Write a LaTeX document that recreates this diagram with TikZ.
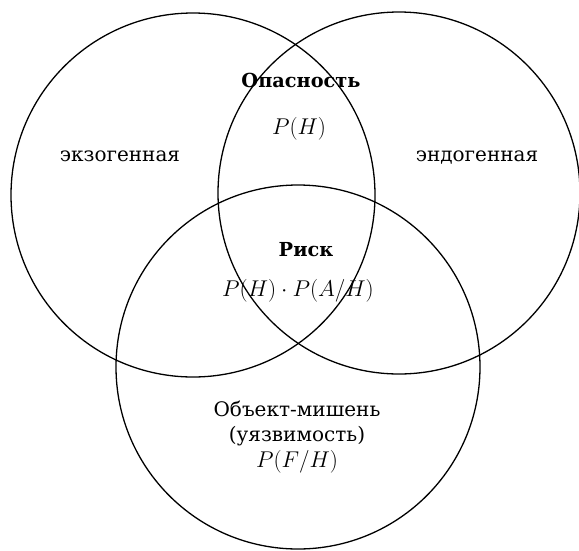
\documentclass[tikz,border=0pt]{standalone}
\usepackage{graphicx}
\usepackage{fontspec}
\setmainfont{DejaVu Serif}
\newcommand{\bigmath}[1]{\scalebox{1.1}{$#1$}}
\begin{document}
\begin{tikzpicture}[x=1pt,y=-1pt,
  circ/.style={draw, line width=1.3pt},
  txt/.style={font=\fontsize{20}{24}\selectfont, inner sep=0pt, anchor=base},
  btxt/.style={font=\fontsize{19.3}{23}\selectfont\bfseries, inner sep=0pt, anchor=base},
  mth/.style={font=\fontsize{20.74}{25}\selectfont, inner sep=0pt, anchor=base}]
\useasboundingbox (0,0) rectangle (579,550);
\draw[circ] (193,195) circle[radius=182];
\draw[circ] (399,193) circle[radius=181];
\draw[circ] (298,367) circle[radius=182];
\node[btxt] (op) at (301,87) {Опасность};
\node[mth] (ph) at (299,134) {\bigmath{P(H)}};
\node[txt] (ex) at (120,161) {экзогенная};
\node[txt] (en) at (477,161) {эндогенная};
\node[btxt] (risk) at (306,256) {Риск};
\node[mth] (form) at (298,296) {\bigmath{P(H)\cdot P(A/H)}};
\node[txt] (obj1) at (297,416) {Объект-мишень};
\node[txt] (obj2) at (297,441) {(уязвимость)};
\node[mth] (obj3) at (297,467) {\bigmath{P(F/H)}};
\end{tikzpicture}
\end{document}
